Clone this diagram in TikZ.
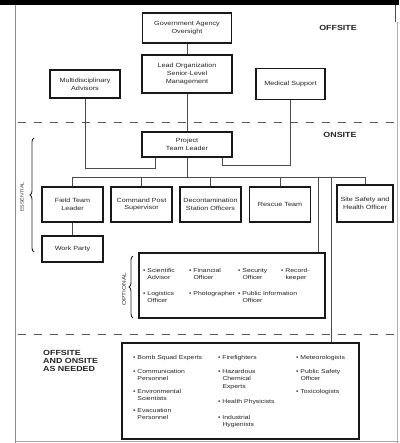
\documentclass[tikz,border=0pt]{standalone}
\usepackage{fontspec}
\setmainfont[FakeStretch=1.2]{Liberation Sans}
\usetikzlibrary{decorations.pathreplacing}
\begin{document}
\begin{tikzpicture}[x={(1pt,0)},y={(0,-1pt)},
  box/.style={draw=black!90, line width=1.7pt, align=center, inner sep=0pt,
    font=\fontsize{6.0}{7.8}\selectfont, text=black!85},
  conn/.style={draw=black!70, line width=0.6pt},
  sep/.style={draw=black!65, line width=1pt, dash pattern=on 8pt off 8pt},
  head/.style={font=\bfseries\fontsize{7.4}{8}\selectfont, text=black!85, align=left, inner sep=0pt},
  item/.style={font=\fontsize{5.7}{7.6}\selectfont, text=black!85, align=left, anchor=north west, inner sep=0pt},
  brc/.style={draw=black!85, line width=0.9pt, decorate, decoration={brace, amplitude=4pt}}]
\useasboundingbox (0,0) rectangle (399,443);
\fill[white] (0,0) rectangle (399,443);
% frame
\fill[black] (0,0) rectangle (399,5);
\draw[black!45, line width=1.6pt] (15.5,5) -- (15.5,443);
\draw[black!70, line width=0.8pt] (395,5) -- (395,22);
\draw[black!30, line width=0.8pt] (397.5,22) -- (397.5,443);
\draw[black!35, line width=0.8pt] (16,441) -- (399,441);
% separators
\draw[sep] (18,123) -- (397,123);
\draw[sep] (18,334) -- (397,334);
% headings
\node[head] (offsite) at (338,28) {OFFSITE};
\node[head] (onsite) at (340,135) {ONSITE};
\node[head, anchor=west] (asneeded) at (43,361) {OFFSITE\\AND ONSITE\\AS NEEDED};
% boxes
\node[box, minimum width=89pt, minimum height=30pt] (gov) at (187,28) {Government Agency\\Oversight};
\node[box, minimum width=90pt, minimum height=38pt] (lead) at (187,74) {Lead Organization\\Senior-Level\\Management};
\node[box, minimum width=70pt, minimum height=28pt] (multi) at (85,84) {Multidisciplinary\\Advisors};
\node[box, minimum width=69pt, minimum height=31pt] (med) at (290.5,84) {Medical Support};
\node[box, minimum width=90pt, minimum height=25pt] (ptl) at (187,144.5) {Project\\Team Leader};
\node[box, minimum width=61pt, minimum height=35pt] (field) at (72.5,204.5) {Field Team\\Leader};
\node[box, minimum width=61pt, minimum height=35pt] (cmd) at (141.5,204.5) {Command Post\\Supervisor};
\node[box, minimum width=61pt, minimum height=35pt] (decon) at (210.5,204.5) {Decontamination\\Station Officers};
\node[box, minimum width=61pt, minimum height=35pt] (rescue) at (280,204.5) {Rescue Team};
\node[box, minimum width=56pt, minimum height=37pt] (safety) at (365,203.5) {Site Safety and\\Health Officer};
\node[box, minimum width=61pt, minimum height=26pt] (work) at (72.5,249) {Work Party};
\node[box, minimum width=186pt, minimum height=65pt] (opt) at (232,285.5) {};
\node[box, minimum width=237pt, minimum height=96pt] (need) at (240.5,391) {};
% optional items
\node[item] (o1) at (143,268) {\textbullet\ Scientific\\\phantom{\textbullet\ }Advisor};
\node[item] (o2) at (189,268) {\textbullet\ Financial\\\phantom{\textbullet\ }Officer};
\node[item] (o3) at (238,268) {\textbullet\ Security\\\phantom{\textbullet\ }Officer};
\node[item] (o4) at (281,268) {\textbullet\ Record-\\\phantom{\textbullet\ }keeper};
\node[item] (o5) at (143,291) {\textbullet\ Logistics\\\phantom{\textbullet\ }Officer};
\node[item] (o6) at (189,291) {\textbullet\ Photographer};
\node[item] (o7) at (238,291) {\textbullet\ Public Information\\\phantom{\textbullet\ }Officer};
% as-needed items
\node[item] (n1) at (133,355) {\textbullet\ Bomb Squad Experts};
\node[item] (n2) at (133,369) {\textbullet\ Communication\\\phantom{\textbullet\ }Personnel};
\node[item] (n3) at (133,389) {\textbullet\ Environmental\\\phantom{\textbullet\ }Scientists};
\node[item] (n4) at (133,408) {\textbullet\ Evacuation\\\phantom{\textbullet\ }Personnel};
\node[item] (n5) at (218,355) {\textbullet\ Firefighters};
\node[item] (n6) at (218,369) {\textbullet\ Hazardous\\\phantom{\textbullet\ }Chemical\\\phantom{\textbullet\ }Experts};
\node[item] (n7) at (218,399) {\textbullet\ Health Physicists};
\node[item] (n8) at (218,415) {\textbullet\ Industrial\\\phantom{\textbullet\ }Hygienists};
\node[item] (n9) at (296,355) {\textbullet\ Meteorologists};
\node[item] (n10) at (296,369) {\textbullet\ Public Safety\\\phantom{\textbullet\ }Officer};
\node[item] (n11) at (296,389) {\textbullet\ Toxicologists};
% braces and side labels
\draw[brc] (34,252) -- (34,138);
\node[font=\fontsize{4.5}{5}\selectfont, text=black!80, rotate=90, inner sep=0pt] (ess) at (22,197) {ESSENTIAL};
\draw[brc] (133,318) -- (133,256);
\node[font=\fontsize{5.4}{6}\selectfont, text=black!80, rotate=90, inner sep=0pt] (optl) at (124,289) {OPTIONAL};
% connectors
\coordinate (bus) at (187,177);
\draw[conn] (gov.south) -- (lead.north);
\draw[conn] (lead.south) -- (ptl.north);
\draw[conn] (multi.south) -- ++(0,69) -| ([xshift=-32pt]ptl.south);
\draw[conn] (med.south) -- ++(0,65) -| ([xshift=35pt]ptl.south);
\draw[conn] (ptl.south) -- (bus);
\draw[conn] (field.north) |- (bus);
\draw[conn] (cmd.north) |- (bus);
\draw[conn] (decon.north) |- (bus);
\draw[conn] (rescue.north) |- (bus);
\draw[conn] (safety.north) |- (bus);
\draw[conn] ([xshift=86pt]opt.north) |- (bus);
\draw[conn] ([xshift=90.5pt]need.north) |- (bus);
\draw[conn] (field.south) -- (work.north);
\end{tikzpicture}
\end{document}
